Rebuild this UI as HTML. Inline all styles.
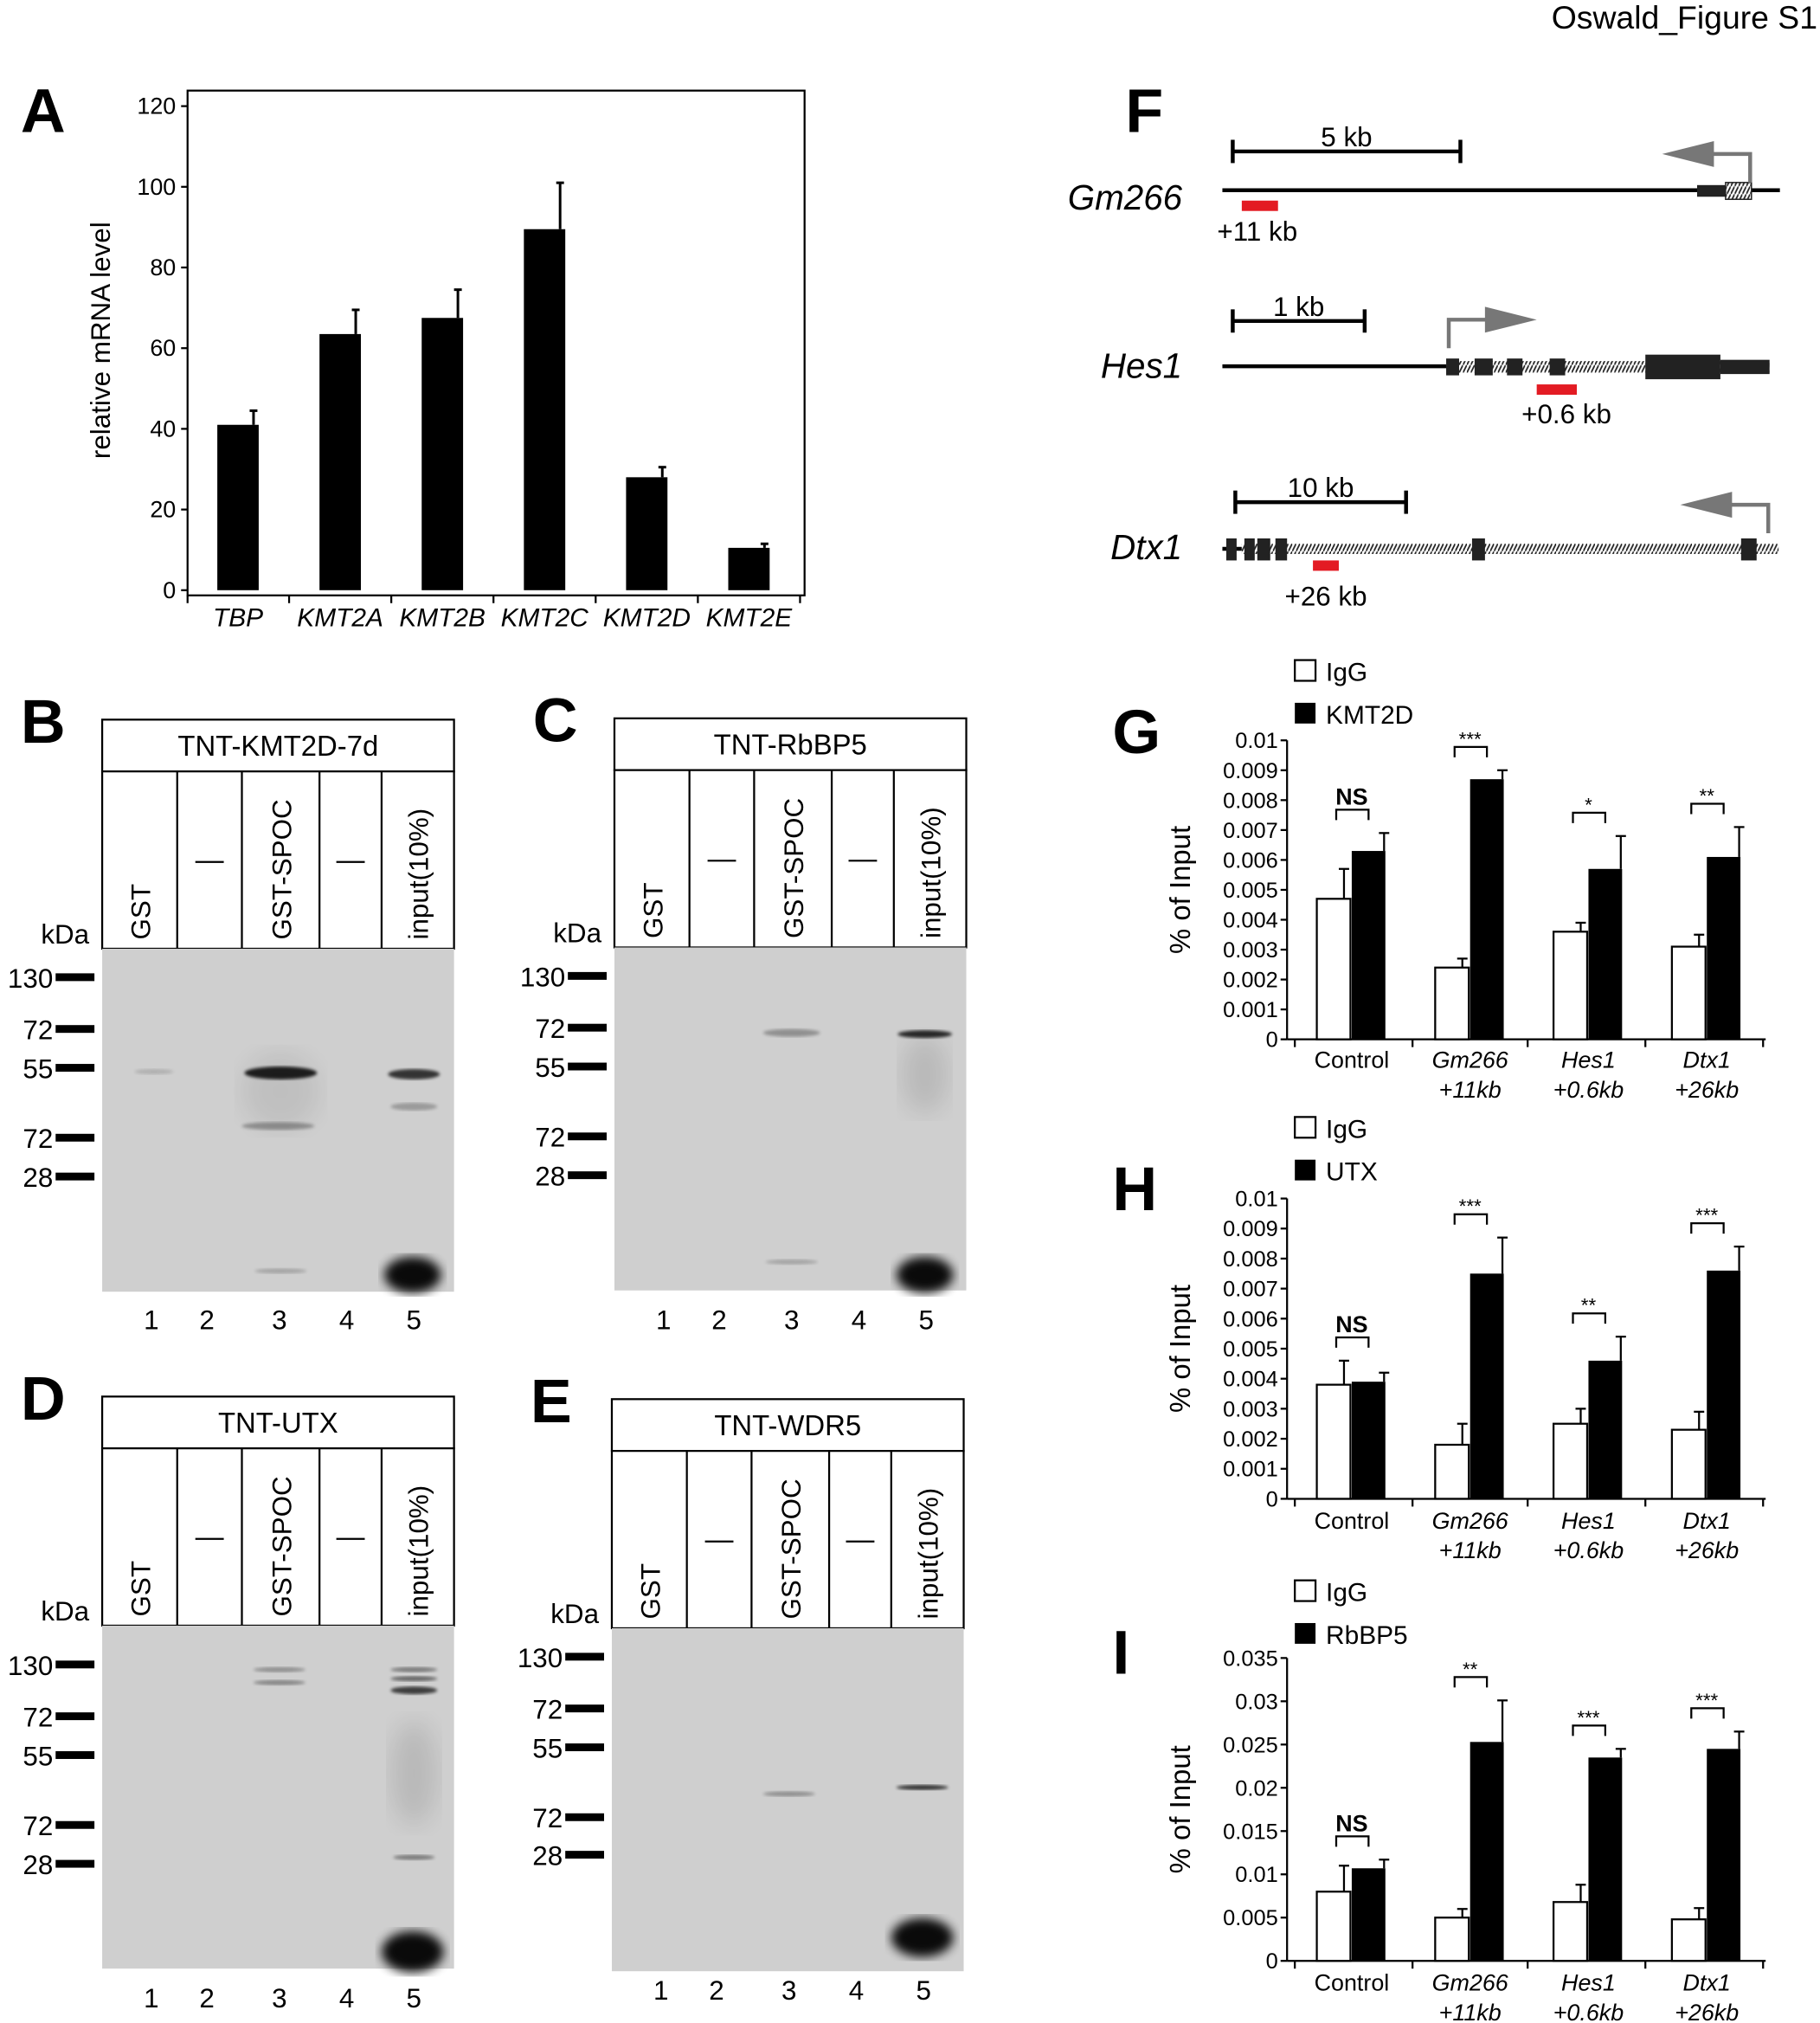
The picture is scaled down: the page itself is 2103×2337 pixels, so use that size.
<!DOCTYPE html>
<html><head><meta charset="utf-8"><style>
html,body{margin:0;padding:0;background:#fff}
svg{display:block;font-family:"Liberation Sans",Arial,sans-serif}
</style></head><body>
<svg id="fig" width="2103" height="2337" viewBox="0 0 1407 1563" preserveAspectRatio="none" xmlns="http://www.w3.org/2000/svg">
<defs>
<filter id="blur1"><feGaussianBlur stdDeviation="1.2"/></filter>
<filter id="blur3"><feGaussianBlur stdDeviation="4"/></filter>
<filter id="blur8"><feGaussianBlur stdDeviation="9"/></filter>
<pattern id="hatch" width="3" height="6" patternUnits="userSpaceOnUse"><rect width="3" height="6" fill="#fff"/><line x1="0" y1="6" x2="3" y2="0" stroke="#222" stroke-width="1.2"/></pattern>
</defs>
<text x="1405" y="22" font-size="25" text-anchor="end">Oswald_Figure S1</text>
<g id="root"></g>
</svg>
<script>
// ---------- Panel A data ----------
const aCategories = ["TBP","KMT2A","KMT2B","KMT2C","KMT2D","KMT2E"];
const aValues = [41, 63.5, 67.5, 89.5, 28, 10.5];
const aErrors = [3.5, 6, 7, 11.5, 2.5, 1];
const aTicks = [0,20,40,60,80,100,120];

// ---------- Panels G/H/I data ----------
const chipGroups = ["Control","Gm266","Hes1","Dtx1"];
const chipSub = ["","+11kb","+0.6kb","+26kb"];
const gIgG = [0.0047,0.0024,0.0036,0.0031];
const gIgGErr = [0.001,0.0003,0.0003,0.0004];
const gAb = [0.0063,0.0087,0.0057,0.0061];
const gAbErr = [0.0006,0.0003,0.0011,0.001];
const gSig = ["NS","***","*","**"];
const gTicks = [0,0.001,0.002,0.003,0.004,0.005,0.006,0.007,0.008,0.009,0.01];
const gTickLabels = ["0","0.001","0.002","0.003","0.004","0.005","0.006","0.007","0.008","0.009","0.01"];
const hIgG = [0.0038,0.0018,0.0025,0.0023];
const hIgGErr = [0.0008,0.0007,0.0005,0.0006];
const hAb = [0.0039,0.0075,0.0046,0.0076];
const hAbErr = [0.0003,0.0012,0.0008,0.0008];
const hSig = ["NS","***","**","***"];
const iIgG = [0.008,0.005,0.0068,0.0048];
const iIgGErr = [0.003,0.001,0.002,0.0013];
const iAb = [0.0107,0.0253,0.0235,0.0245];
const iAbErr = [0.001,0.0048,0.001,0.002];
const iSig = ["NS","**","***","***"];
const iTicks = [0,0.005,0.01,0.015,0.02,0.025,0.03,0.035];
const iTickLabels = ["0","0.005","0.01","0.015","0.02","0.025","0.03","0.035"];

const NS="http://www.w3.org/2000/svg";
const root=document.getElementById('root');
function el(tag,attrs,parent,text){const e=document.createElementNS(NS,tag);for(const k in attrs)e.setAttribute(k,attrs[k]);if(text!==undefined)e.textContent=text;(parent||root).appendChild(e);return e;}
function grp(name,parent){const g=el('g',{},parent);


return g;}
function letter(t,x,y){const e=el('text',{x:x,y:y,'font-size':48,'font-weight':'bold'},root,t);

}

// ---------- Panel A ----------
letter('A',16,102);
(function(){
const g=grp('panel-a-chart');
const x0=145,x1=622,yTop=70,yBot=460;
const y=v=>456-v*(456-82)/120;
el('rect',{x:x0,y:yTop,width:x1-x0,height:yBot-yTop,fill:'none',stroke:'#000','stroke-width':1.5},g);
aTicks.forEach(t=>{el('line',{x1:x0-5,x2:x0,y1:y(t),y2:y(t),stroke:'#000','stroke-width':1.5},g);
const tx=el('text',{x:x0-9,y:y(t)+6,'font-size':18,'text-anchor':'end'},g,String(t));

});
const yl=el('text',{transform:'translate(85,263) rotate(-90)','font-size':21,'text-anchor':'middle'},g,'relative mRNA level');


aCategories.forEach((c,i)=>{const cx=184+i*79;
const b=el('rect',{x:cx-16,y:y(aValues[i]),width:32,height:y(0)-y(aValues[i]),fill:'#000'},g);


const ey=y(aValues[i]+aErrors[i]);
el('line',{x1:cx+12,x2:cx+12,y1:y(aValues[i]),y2:ey,stroke:'#000','stroke-width':2},g);
el('line',{x1:cx+9,x2:cx+15,y1:ey,y2:ey,stroke:'#000','stroke-width':2},g);
el('line',{x1:cx+39.5,x2:cx+39.5,y1:yBot,y2:yBot+6,stroke:'#000','stroke-width':1.5},g);
const lt=el('text',{x:cx,y:484,'font-size':20,'font-style':'italic','text-anchor':'middle'},g,c);

});
el('line',{x1:x0,x2:x0,y1:yBot,y2:yBot+6,stroke:'#000','stroke-width':1.5},g);
})();

// ---------- Gels ----------
function gel(L,title,x,yh,kda,kdaY,numY,bands,name){
letter(L,x-63,yh+18);
const g=grp(name);
const w=272, div=[58,108,168,216];
el('rect',{x:x,y:yh,width:w,height:40,fill:'#fff',stroke:'#000','stroke-width':1.5},g);
const tt=el('text',{x:x+w/2,y:yh+28,'font-size':22,'text-anchor':'middle'},g,title);


el('rect',{x:x,y:yh+40,width:w,height:137,fill:'#fff',stroke:'#000','stroke-width':1.5},g);
div.forEach(d=>el('line',{x1:x+d,x2:x+d,y1:yh+40,y2:yh+177,stroke:'#000','stroke-width':1.5},g));
const labs=[['GST',29],['—',83,1],['GST-SPOC',138],['—',192,1],['input(10%)',244]];
labs.forEach(l=>{if(l[2]){el('line',{x1:x+l[1]-11,x2:x+l[1]+11,y1:yh+110,y2:yh+110,stroke:'#000','stroke-width':1.5},g);}
else{const t=el('text',{transform:`translate(${x+l[1]+8},${yh+170}) rotate(-90)`,'font-size':21},g,l[0]);

}});
const gy=yh+177, gh=265;
const gr=el('rect',{x:x,y:gy,width:w,height:gh,fill:'#cfcfcf'},g);


bands.forEach(b=>el('ellipse',{cx:x+b[0],cy:b[1],rx:b[2],ry:b[3],fill:'#000',opacity:b[4],filter:b[5]||'url(#blur1)'},g));
const kt=el('text',{x:x-10,y:gy-4,'font-size':21,'text-anchor':'end'},g,'kDa');


kda.forEach((k,i)=>{el('rect',{x:x-36,y:kdaY[i]-3,width:30,height:6,fill:'#000'},g);
el('text',{x:x-38,y:kdaY[i]+8,'font-size':21,'text-anchor':'end'},g,k);});
[38,81,137,189,241].forEach((lx,i)=>{el('text',{x:x+lx,y:numY,'font-size':21,'text-anchor':'middle'},g,String(i+1));});
}
const kd=['130','72','55','72','28'];
gel('B','TNT-KMT2D-7d',79,556,kd,[755,795,825,879,909],1027,[
[40,828,15,2,0.15],[138,829,28,5,0.85],[138,843,30,30,0.07,'url(#blur8)'],[241,830,20,4,0.75],[241,855,18,3,0.25],[240,985,22,14,0.95,'url(#blur3)'],[138,982,20,2,0.2],[136,870,28,3,0.3]],'gel-b');
gel('C','TNT-RbBP5',475,555,kd,[754,794,824,878,908],1027,[
[137,798,22,3,0.3],[240,799,21,3,0.8],[240,830,18,30,0.1,'url(#blur8)'],[240,985,22,14,0.95,'url(#blur3)'],[137,975,20,2,0.2]],'gel-c');
gel('D','TNT-UTX',79,1079,kd,[1286,1326,1356,1410,1440],1551,[
[137,1290,20,2,0.3],[137,1300,20,2,0.35],[241,1290,18,2,0.4],[241,1297,18,2,0.5],[241,1306,18,3,0.7],[241,1370,18,40,0.1,'url(#blur8)'],[241,1435,16,2,0.4],[240,1508,24,16,0.95,'url(#blur3)']],'gel-d');
gel('E','TNT-WDR5',473,1081,kd,[1280,1320,1350,1404,1433],1545,[
[137,1386,20,2,0.3],[240,1381,20,2,0.75],[240,1497,24,15,0.95,'url(#blur3)']],'gel-e');

// ---------- Panel F ----------
letter('F',870,102);
(function(){
const g=grp('panel-f-gene-diagrams');
function scale(x1,x2,y,t){el('line',{x1:x1,x2:x2,y1:y,y2:y,stroke:'#000','stroke-width':3},g);
el('line',{x1:x1,x2:x1,y1:y-9,y2:y+9,stroke:'#000','stroke-width':3},g);el('line',{x1:x2,x2:x2,y1:y-9,y2:y+9,stroke:'#000','stroke-width':3},g);
el('text',{x:(x1+x2)/2,y:y-4,'font-size':21,'text-anchor':'middle'},g,t);}
function gname(t,y){const e=el('text',{x:914,y:y,'font-size':27,'font-style':'italic','text-anchor':'end'},g,t);

}
function arrow(x,y,dir){el('polyline',{points:`${x},${y+22} ${x},${y} ${x+dir*38},${y}`,fill:'none',stroke:'#777','stroke-width':3},g);
el('polygon',{points:`${x+dir*28},${y-10} ${x+dir*68},${y} ${x+dir*28},${y+10}`,fill:'#777'},g);}
function probe(x,w,y,t,tx,ty){const r=el('rect',{x:x,y:y,width:w,height:8,fill:'#e31b23'},g);


el('text',{x:tx,y:ty,'font-size':21,'text-anchor':'middle'},g,t);}
// Gm266
scale(953,1129,117,'5 kb'); gname('Gm266',162);
el('line',{x1:945,x2:1376,y1:147,y2:147,stroke:'#000','stroke-width':3},g);
el('rect',{x:1312,y:143,width:22,height:9,fill:'#222'},g);el('rect',{x:1334,y:141,width:20,height:13,fill:'url(#hatch)',stroke:'#222'},g);
arrow(1353,119,-1); probe(960,28,155,'+11 kb',972,186);
// Hes1
scale(953,1055,248,'1 kb'); gname('Hes1',292);
el('line',{x1:945,x2:1118,y1:283,y2:283,stroke:'#000','stroke-width':3},g);
el('rect',{x:1118,y:279,width:250,height:9,fill:'url(#hatch)'},g);
[[1118,10],[1140,14],[1165,12],[1198,12]].forEach(b=>el('rect',{x:b[0],y:277,width:b[1],height:13,fill:'#222'},g));
el('rect',{x:1272,y:274,width:58,height:19,fill:'#222'},g);
el('rect',{x:1330,y:278,width:38,height:11,fill:'#222'},g);
arrow(1120,247,1); probe(1188,31,297,'+0.6 kb',1211,327);
// Dtx1
scale(955,1087,388,'10 kb'); gname('Dtx1',432);
el('line',{x1:945,x2:960,y1:424,y2:424,stroke:'#000','stroke-width':3},g);
el('rect',{x:960,y:420,width:415,height:8,fill:'url(#hatch)'},g);
[[948,8],[962,8],[972,10],[986,9],[1138,10],[1346,12]].forEach(b=>el('rect',{x:b[0],y:416,width:b[1],height:17,fill:'#222'},g));
arrow(1367,390,-1); probe(1015,20,433,'+26 kb',1025,468);
})();

// ---------- ChIP charts ----------
function chip(L,name,ab,igg,iggErr,abv,abErr,sig,ticks,tickLabels,ymax,yTop,yBot,legY,labY){
letter(L,860,legY+72);
const g=grp(name);
const y=v=>yBot-v*(yBot-yTop)/ymax;
const l1=el('rect',{x:1001,y:legY,width:16,height:16,fill:'#fff',stroke:'#000','stroke-width':1.5},g);


el('text',{x:1025,y:legY+16,'font-size':20},g,'IgG');
const l2=el('rect',{x:1001,y:legY+33,width:16,height:16,fill:'#000'},g);


el('text',{x:1025,y:legY+49,'font-size':20},g,ab);
el('line',{x1:995,x2:995,y1:yTop,y2:yBot,stroke:'#000','stroke-width':1.5},g);
el('line',{x1:995,x2:1365,y1:yBot,y2:yBot,stroke:'#000','stroke-width':1.5},g);
ticks.forEach((t,i)=>{el('line',{x1:990,x2:995,y1:y(t),y2:y(t),stroke:'#000','stroke-width':1.5},g);
el('text',{x:988,y:y(t)+6,'font-size':17,'text-anchor':'end'},g,tickLabels[i]);});
[1001,1092,1181,1272,1363].forEach(x=>el('line',{x1:x,x2:x,y1:yBot,y2:yBot+6,stroke:'#000','stroke-width':1.5},g));
const yt=el('text',{transform:`translate(920,${(yTop+yBot)/2}) rotate(-90)`,'font-size':22,'text-anchor':'middle'},g,'% of Input');


chipGroups.forEach((c,i)=>{const cx=1045+i*91.5;
const w=26;
const bi=el('rect',{x:cx-w-1,y:y(igg[i]),width:w,height:yBot-y(igg[i]),fill:'#fff',stroke:'#000','stroke-width':1.5},g);


const ba=el('rect',{x:cx,y:y(abv[i]),width:w,height:yBot-y(abv[i]),fill:'#000'},g);


[[cx-6,igg[i],iggErr[i]],[cx+w-1,abv[i],abErr[i]]].forEach(e=>{const ey=y(e[1]+e[2]);
el('line',{x1:e[0],x2:e[0],y1:y(e[1]),y2:ey,stroke:'#000','stroke-width':1.5},g);
el('line',{x1:e[0]-4,x2:e[0]+4,y1:ey,y2:ey,stroke:'#000','stroke-width':1.5},g);});
const by=y(Math.max(igg[i]+iggErr[i],abv[i]+abErr[i]))-18;
el('polyline',{points:`${cx-12},${by+8} ${cx-12},${by} ${cx+13},${by} ${cx+13},${by+8}`,fill:'none',stroke:'#000','stroke-width':1.5},g);
el('text',{x:cx,y:sig[i]==='NS'?by-4:by-1,'font-size':sig[i]==='NS'?18:15,'font-weight':sig[i]==='NS'?'bold':'normal','text-anchor':'middle'},g,sig[i]);
const t1=el('text',{x:cx,y:labY,'font-size':18,'font-style':i?'italic':'normal','text-anchor':'middle'},g,c);


if(chipSub[i])el('text',{x:cx,y:labY+23,'font-size':18,'font-style':'italic','text-anchor':'middle'},g,chipSub[i]);});
}
chip('G','chart-g','KMT2D',gIgG,gIgGErr,gAb,gAbErr,gSig,gTicks,gTickLabels,0.01,572,803,510,825);
chip('H','chart-h','UTX',hIgG,hIgGErr,hAb,hAbErr,hSig,gTicks,gTickLabels,0.01,926,1158,863,1181);
chip('I','chart-i','RbBP5',iIgG,iIgGErr,iAb,iAbErr,iSig,iTicks,iTickLabels,0.035,1281,1515,1221,1538);
</script>
</body></html>
